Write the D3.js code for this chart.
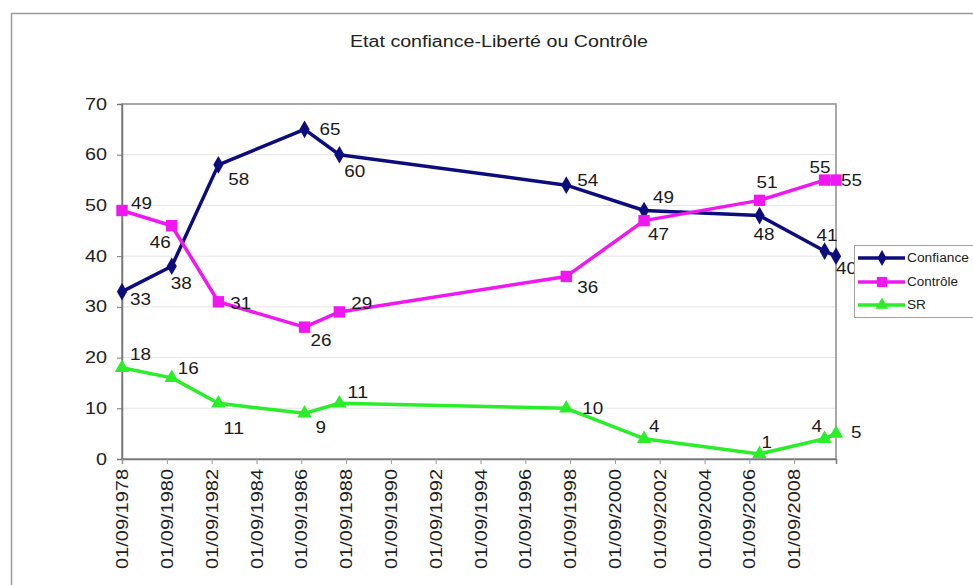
<!DOCTYPE html>
<html>
<head>
<meta charset="utf-8">
<script src="https://cdn.jsdelivr.net/npm/d3@7"></script>
<style>
  html, body { margin: 0; padding: 0; background: #fff; }
  svg { display: block; font-family: "Liberation Sans", Arial, sans-serif; }
</style>
</head>
<body>
<svg id="chart" width="973" height="585"></svg>
<script>
// Survey dates (approximate) and series values
const surveyDates = ["1978-09-01", "1980-11-20", "1982-12-20", "1986-10-25", "1988-05-15",
                     "1998-07-01", "2001-12-20", "2007-02-15", "2010-01-10", "2010-07-15"];
const confiance = [33, 38, 58, 65, 60, 54, 49, 48, 41, 40];
const controle  = [49, 46, 31, 26, 29, 36, 47, 51, 55, 55];
const sr        = [18, 16, 11, 9, 11, 10, 4, 1, 4, 5];

const seriesNames = ["Confiance", "Contrôle", "SR"];
const xTickLabels = ["01/09/1978", "01/09/1980", "01/09/1982", "01/09/1984", "01/09/1986",
                     "01/09/1988", "01/09/1990", "01/09/1992", "01/09/1994", "01/09/1996",
                     "01/09/1998", "01/09/2000", "01/09/2002", "01/09/2004", "01/09/2006",
                     "01/09/2008"];
const yTicks = [0, 10, 20, 30, 40, 50, 60, 70];
const title = "Etat confiance-Liberté ou Contrôle";

// Label placement relative to each point: [dx, dy]
const labelOffsets = [
  [[8, 8], [-1, 17], [10, 15], [15, 0], [5, 17], [11, -5], [9, -13], [-6, 19], [-8, -16], [0, 12]],
  [[9, -7], [-22, 17], [12, 2], [6, 13], [12, -9], [11, 11], [4, 14], [-3, -18], [-15, -13], [5, 0]],
  [[8, -13], [6, -9], [5, 25], [11, 14], [8, -11], [16, 0], [5, -12], [2, -12], [-13, -12], [15, -1]]
];

const parseDay = d3.timeParse("%Y-%m-%d");
const parseTick = d3.timeParse("%d/%m/%Y");
const dates = surveyDates.map(parseDay);

const svg = d3.select("#chart");
const plot = { left: 122, right: 836, top: 104, bottom: 459 };

const x = d3.scaleTime()
  .domain([dates[0], dates[dates.length - 1]])
  .range([plot.left, plot.right]);
const y = d3.scaleLinear().domain([0, 70]).range([plot.bottom, plot.top]);

// outer chart frame
svg.append("rect")
  .attr("x", 11.5).attr("y", 13.5).attr("width", 1000).attr("height", 600)
  .attr("fill", "#fff").attr("stroke", "#9a9a9a").attr("stroke-width", 1.5);

// title
svg.append("text")
  .attr("x", 499).attr("y", 47)
  .attr("text-anchor", "middle")
  .attr("font-size", 16)
  .attr("fill", "#222")
  .attr("textLength", 298).attr("lengthAdjust", "spacingAndGlyphs")
  .text(title);

// gridlines
svg.append("g").selectAll("line")
  .data(yTicks.filter(v => v > 0 && v < 70))
  .join("line")
  .attr("x1", plot.left).attr("x2", plot.right)
  .attr("y1", d => y(d)).attr("y2", d => y(d))
  .attr("stroke", "#e4e4e4").attr("stroke-width", 1);

// plot frame
svg.append("rect")
  .attr("x", plot.left).attr("y", plot.top)
  .attr("width", plot.right - plot.left).attr("height", plot.bottom - plot.top)
  .attr("fill", "none").attr("stroke", "#8c8c8c").attr("stroke-width", 1.5);

// y axis
const yAxis = d3.axisLeft(y).tickValues(yTicks).tickSize(5).tickFormat(d3.format("d"));
const gy = svg.append("g").attr("transform", `translate(${plot.left},0)`).call(yAxis);
gy.select(".domain").attr("stroke", "#777").attr("stroke-width", 1.5);
gy.selectAll(".tick line").attr("stroke", "#777");
gy.selectAll(".tick text")
  .attr("x", -15)
  .attr("font-size", 16)
  .attr("fill", "#222")
  .attr("font-family", "Liberation Sans, Arial, sans-serif")
  .attr("textLength", d => String(d).length * 11)
  .attr("lengthAdjust", "spacingAndGlyphs");

// x axis (date ticks every two years)
const tickDates = xTickLabels.map(parseTick);
const xAxis = d3.axisBottom(x).tickValues(tickDates).tickSize(5)
  .tickFormat((d, i) => xTickLabels[i]);
const gx = svg.append("g").attr("transform", `translate(0,${plot.bottom})`).call(xAxis);
gx.select(".domain").attr("stroke", "#777").attr("stroke-width", 1.5);
gx.selectAll(".tick line").attr("stroke", "#999");
gx.selectAll(".tick text")
  .attr("transform", "rotate(-90)")
  .attr("x", -10).attr("y", 0).attr("dy", "0.35em")
  .attr("text-anchor", "end")
  .attr("font-size", 16)
  .attr("fill", "#222")
  .attr("font-family", "Liberation Sans, Arial, sans-serif")
  .attr("textLength", 100)
  .attr("lengthAdjust", "spacingAndGlyphs");

// series
const series = [
  { name: seriesNames[0], values: confiance, color: "#0c0c7c", symbol: d3.symbolDiamond, size: 90 },
  { name: seriesNames[1], values: controle,  color: "#f018f0", symbol: d3.symbolSquare,  size: 130 },
  { name: seriesNames[2], values: sr,        color: "#2aee2a", symbol: d3.symbolTriangle, size: 90 }
];

const line = d3.line().x((d, i) => x(dates[i])).y(d => y(d));

series.forEach((s, si) => {
  const g = svg.append("g");
  g.append("path")
    .attr("d", line(s.values))
    .attr("fill", "none")
    .attr("stroke", s.color)
    .attr("stroke-width", 3.5)
    .attr("stroke-linejoin", "round");
  g.selectAll("path.marker")
    .data(s.values)
    .join("path")
    .attr("class", "marker")
    .attr("d", d3.symbol().type(s.symbol).size(s.size))
    .attr("transform", (d, i) => `translate(${x(dates[i])},${y(d)})`)
    .attr("fill", s.color);
});

// data labels
series.forEach((s, si) => {
  svg.append("g").selectAll("text")
    .data(s.values)
    .join("text")
    .attr("x", (d, i) => x(dates[i]) + labelOffsets[si][i][0])
    .attr("y", (d, i) => y(d) + labelOffsets[si][i][1])
    .attr("dy", "0.35em")
    .attr("font-size", 16)
    .attr("fill", "#1a1a1a")
    .attr("textLength", d => String(d).length * 10.5)
    .attr("lengthAdjust", "spacingAndGlyphs")
    .text(d => d);
});

// legend
const legend = svg.append("g");
legend.append("rect")
  .attr("x", 854.5).attr("y", 245.5).attr("width", 140).attr("height", 72)
  .attr("fill", "#fff").attr("stroke", "#a0a0a0").attr("stroke-width", 1);
const legendRows = [258, 282, 305];
const legendWidths = [62, 51, 19];
series.forEach((s, i) => {
  const ly = legendRows[i];
  legend.append("line")
    .attr("x1", 858).attr("x2", 905).attr("y1", ly).attr("y2", ly)
    .attr("stroke", s.color).attr("stroke-width", 3.5);
  legend.append("path")
    .attr("d", d3.symbol().type(s.symbol).size(s.size * 0.8))
    .attr("transform", `translate(882,${ly})`)
    .attr("fill", s.color);
  legend.append("text")
    .attr("x", 907).attr("y", ly).attr("dy", "0.35em")
    .attr("font-size", 12)
    .attr("fill", "#222")
    .attr("textLength", legendWidths[i]).attr("lengthAdjust", "spacingAndGlyphs")
    .text(s.name);
});
</script>
</body>
</html>
